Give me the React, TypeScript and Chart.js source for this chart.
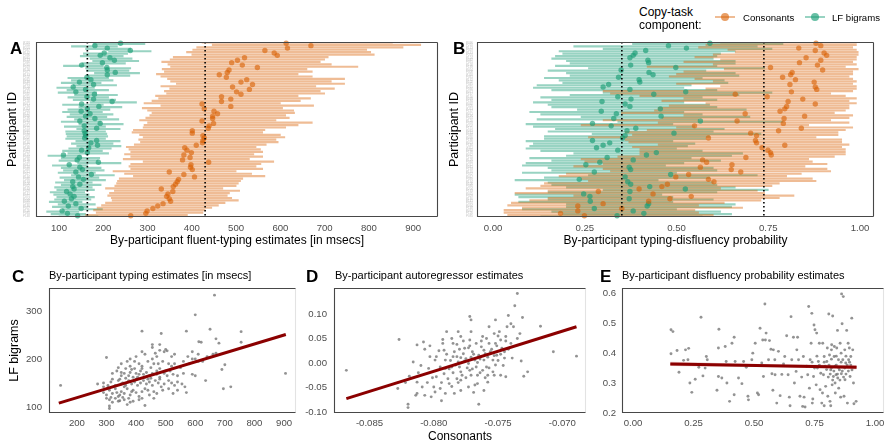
import React, { useEffect, useRef } from "react";
import { Chart, registerables } from "chart.js";

Chart.register(...registerables);

const FONT = '"Liberation Sans", Arial, Helvetica, sans-serif';
const TICK_COLOR = "#4d4d4d";
const FRAME_COLOR = "#474747";
const LIGHT_FRAME = "#e3e3e3";
const ORANGE_BAR = "rgba(217,95,2,0.42)";
const GREEN_BAR = "rgba(27,158,119,0.45)";
const ORANGE_DOT = "rgba(217,95,2,0.6)";
const GREEN_DOT = "rgba(27,158,119,0.66)";
const GRAY_DOT = "rgba(105,105,105,0.72)";
const FIT_RED = "#8b0000";

// ---------------- Panel A: fluent-typing estimates (msecs) ----------------
const aIds = "P118 P054 P201 P087 P132 P096 P045 P173 P066 P210 P019 P158 P077 P143 P102 P031 P189 P061 P124 P008 P167 P092 P215 P039 P150 P071 P184 P113 P026 P137 P059 P196 P083 P120 P014 P175 P048 P161 P099 P207 P035 P146 P072 P188 P111 P023 P155 P064 P199 P128 P041 P170 P089 P212 P017 P134 P080 P193 P106 P052 P163 P029 P141 P075 P204 P094 P010 P180 P057 P126 P085 P148".split(" ");
const aConsMean = [613,669,616,565,586,593,519,503,490,514,548,484,480,462,478,524,511,537,492,530,501,511,467,488,467,423,488,428,450,458,447,447,423,449,439,437,401,401,425,428,425,424,410,384,389,399,382,396,379,438,398,397,401,349,382,406,370,367,363,358,331,357,346,343,349,352,335,323,312,299,296,262];
const aConsLo = [423,446,411,402,388,400,358,351,332,346,352,333,338,320,330,345,352,365,330,350,338,343,318,325,310,292,330,288,300,310,305,296,282,300,292,290,268,265,282,290,280,284,270,252,258,262,248,262,245,290,262,258,262,222,248,268,236,232,230,226,205,225,214,210,218,220,205,196,186,178,184,160];
const aConsHi = [853,917,877,795,804,812,708,700,690,715,775,660,672,640,672,745,715,745,680,722,690,700,640,668,645,600,675,605,630,632,612,620,590,672,640,612,565,560,600,610,590,595,568,545,555,560,540,560,530,585,556,545,560,500,535,565,515,510,505,500,470,508,485,480,490,505,475,460,445,430,425,390];
const aBigMean = [239,181,209,261,202,193,215,225,198,151,208,209,227,209,163,172,146,178,132,160,138,180,163,178,220,151,190,164,150,170,160,181,147,193,157,185,157,159,160,158,185,172,187,167,151,164,110,146,141,189,123,147,153,138,173,144,155,131,147,131,134,117,125,134,128,112,138,121,150,107,119,142];
const aBigLo = [177,128,160,212,155,148,170,176,152,110,160,162,180,165,120,128,105,132,95,118,98,135,120,132,170,108,145,120,108,125,118,135,105,145,112,140,115,116,118,115,138,128,140,122,108,120,75,105,100,142,85,105,110,98,128,102,112,92,105,90,95,80,88,95,90,78,98,85,108,72,82,100];
const aBigHi = [294,232,262,308,255,245,265,280,250,200,262,258,282,260,212,222,195,230,180,212,185,232,212,228,275,200,242,215,198,222,208,235,195,245,205,238,205,208,210,205,238,222,240,218,198,212,150,192,188,240,165,195,202,182,225,190,205,175,195,175,180,158,168,180,172,152,182,165,198,145,160,188];
const aRefLines = [164, 430];
const aXTicks = [100, 200, 300, 400, 500, 600, 700, 800, 900];
const aXLabels = ["100", "200", "300", "400", "500", "600", "700", "800", "900"];

// ---------------- Panel B: disfluency probability ----------------
const bIds = "P096 P210 P173 P019 P143 P201 P124 P087 P031 P158 P189 P054 P008 P118 P061 P132 P102 P045 P215 P066 P077 P167 P150 P039 P184 P092 P026 P113 P137 P071 P196 P014 P120 P059 P207 P175 P083 P161 P048 P099 P188 P023 P146 P111 P035 P199 P072 P155 P128 P064 P212 P041 P193 P170 P052 P017 P089 P134 P106 P080 P204 P163 P075 P029 P180 P141 P010 P094 P148 P057 P126 P085".split(" ");
const bConsMean = [0.880,0.893,0.833,0.878,0.902,0.909,0.853,0.893,0.835,0.884,0.756,0.898,0.815,0.811,0.789,0.824,0.875,0.809,0.878,0.882,0.813,0.660,0.747,0.844,0.804,0.878,0.800,0.795,0.782,0.687,0.849,0.793,0.665,0.791,0.549,0.840,0.778,0.702,0.718,0.587,0.715,0.718,0.795,0.733,0.749,0.756,0.758,0.689,0.571,0.582,0.651,0.565,0.649,0.675,0.533,0.498,0.587,0.602,0.475,0.460,0.398,0.287,0.436,0.540,0.482,0.424,0.300,0.231,0.351,0.231,0.184,0.249];
const bConsLo = [0.62,0.58,0.56,0.64,0.66,0.60,0.55,0.62,0.52,0.60,0.42,0.63,0.52,0.50,0.48,0.55,0.60,0.50,0.62,0.58,0.30,0.32,0.40,0.52,0.46,0.58,0.48,0.45,0.44,0.35,0.52,0.46,0.30,0.45,0.24,0.50,0.42,0.36,0.38,0.26,0.36,0.37,0.45,0.38,0.40,0.40,0.40,0.34,0.24,0.25,0.30,0.22,0.30,0.32,0.20,0.18,0.24,0.26,0.14,0.13,0.09,0.15,0.06,0.22,0.15,0.10,0.05,0.04,0.08,0.03,0.03,0.04];
const bConsHi = [0.99,0.99,0.98,0.99,0.995,0.995,0.99,0.99,0.98,0.99,0.96,0.995,0.98,0.98,0.97,0.98,0.99,0.98,0.99,0.99,0.98,0.92,0.96,0.99,0.97,0.99,0.97,0.97,0.96,0.93,0.98,0.97,0.92,0.97,0.86,0.98,0.96,0.94,0.94,0.88,0.95,0.95,0.97,0.95,0.96,0.96,0.96,0.93,0.86,0.87,0.91,0.85,0.91,0.92,0.84,0.80,0.87,0.88,0.78,0.76,0.62,0.72,0.74,0.82,0.78,0.73,0.63,0.56,0.68,0.55,0.56,0.60];
const bBigMean = [0.591,0.478,0.527,0.416,0.387,0.382,0.373,0.422,0.424,0.375,0.498,0.349,0.425,0.436,0.342,0.398,0.400,0.315,0.300,0.373,0.525,0.438,0.340,0.376,0.297,0.360,0.373,0.456,0.295,0.336,0.458,0.329,0.565,0.271,0.322,0.389,0.365,0.493,0.360,0.353,0.271,0.318,0.300,0.282,0.340,0.445,0.418,0.311,0.382,0.291,0.253,0.371,0.375,0.276,0.484,0.360,0.235,0.367,0.375,0.427,0.524,0.373,0.247,0.264,0.371,0.265,0.424,0.420,0.276,0.382,0.411,0.338];
const bBigLo = [0.38,0.22,0.30,0.18,0.19,0.17,0.16,0.20,0.21,0.17,0.26,0.15,0.20,0.21,0.14,0.18,0.19,0.12,0.11,0.16,0.30,0.21,0.13,0.16,0.11,0.15,0.16,0.23,0.10,0.13,0.24,0.12,0.34,0.09,0.11,0.17,0.15,0.27,0.14,0.14,0.09,0.11,0.10,0.09,0.13,0.22,0.20,0.10,0.16,0.09,0.08,0.15,0.16,0.08,0.26,0.14,0.06,0.15,0.16,0.20,0.30,0.15,0.06,0.07,0.15,0.07,0.20,0.20,0.08,0.16,0.19,0.13];
const bBigHi = [0.79,0.72,0.76,0.66,0.62,0.61,0.60,0.66,0.66,0.61,0.74,0.58,0.66,0.67,0.57,0.63,0.64,0.54,0.52,0.61,0.76,0.67,0.57,0.61,0.52,0.59,0.61,0.69,0.52,0.57,0.70,0.56,0.79,0.49,0.55,0.63,0.60,0.73,0.59,0.58,0.49,0.55,0.53,0.50,0.57,0.68,0.65,0.54,0.62,0.52,0.47,0.60,0.61,0.50,0.72,0.59,0.45,0.60,0.61,0.66,0.75,0.61,0.46,0.49,0.60,0.49,0.66,0.65,0.50,0.62,0.65,0.57];
const bRefLines = [0.351, 0.738];
const bXTicks = [0, 0.25, 0.5, 0.75, 1];
const bXLabels = ["0.00", "0.25", "0.50", "0.75", "1.00"];

// ---------------- Panel C: typing estimates scatter ----------------
const cPoints = [
[420,258],[485,253],[570,258],[600,292],[650,262],[665,333],[755,257],[670,242],[620,235],[612,236],
[455,230],[500,220],[680,233],[755,235],[480,218],[505,217],[455,224],[480,230],
[300,203],[420,215],[465,212],[495,215],[520,205],[530,210],[610,210],[590,215],[575,205],[640,205],[400,205],[380,200],[430,210],[470,205],[455,200],[600,200],[660,210],[670,212],
[350,190],[370,195],[380,185],[395,195],[410,190],[420,185],[440,195],[460,190],[475,190],[490,195],[510,190],[530,190],[560,195],[580,190],[610,195],[625,195],[700,188],[690,178],[450,182],[420,180],[340,182],[365,180],[395,180],[480,180],[550,182],[520,185],[590,200],
[320,170],[335,175],[350,165],[360,170],[375,165],[385,178],[400,170],[405,162],[415,175],[425,168],[435,172],[445,165],[455,170],[470,175],[480,162],[495,170],[505,165],[515,175],[525,168],[540,165],[560,170],[590,168],[600,165],[450,160],[430,162],[390,162],[365,160],[350,172],[470,168],[500,175],[380,172],[410,168],
[270,148],[290,150],[305,145],[315,152],[330,145],[340,155],[355,150],[365,145],[375,155],[385,148],[395,152],[405,145],[415,150],[425,155],[435,148],[445,152],[455,145],[465,155],[475,150],[485,142],[495,148],[510,155],[520,150],[530,145],[540,152],[555,148],[565,142],[635,155],[145,145],[320,158],[345,158],[360,142],[400,158],[440,158],[480,158],[350,148],[290,142],
[290,130],[300,125],[310,135],[320,128],[330,138],[340,122],[350,132],[360,128],[370,138],[380,125],[390,135],[400,130],[410,122],[420,132],[430,138],[445,125],[460,132],[470,128],[490,135],[510,138],[540,135],[570,130],[525,128],[305,140],[335,130],[355,120],[695,138],[720,142],[385,132],[440,135],[315,120],[345,125],
[310,115],[320,110],[330,118],[345,113],[360,115],[375,118],[390,112],[410,115],[430,103],[310,102],[310,97],[370,105],[340,112],[300,118],[380,110],[420,118],[460,118],
[905,170]
];
const cFitX = [139, 906];
const cFitY = [108, 251];
const cXTicks = [200, 300, 400, 500, 600, 700, 800, 900];
const cXLabels = ["200", "300", "400", "500", "600", "700", "800", "900"];
const cYTicks = [100, 200, 300];
const cYLabels = ["100", "200", "300"];

// ---------------- Panel D: autoregressor estimates scatter ----------------
const dPoints = [
[-0.0868,-0.015],[-0.0827,0.048],[-0.0735,0.142],[-0.0737,0.117],[-0.0742,0.097],[-0.0731,0.093],[-0.0772,0.095],[-0.0771,0.088],[-0.0717,0.075],[-0.0707,0.023],[-0.0689,0.014],[-0.0732,0.004],[-0.0727,-0.018],[-0.0730,-0.027],[-0.0765,-0.084],[-0.0820,-0.084],[-0.0820,-0.091],[-0.0794,-0.077],
[-0.0812,-0.020],[-0.0808,0.043],[-0.0807,0.028],[-0.0813,0.037],[-0.0819,-0.027],[-0.0813,-0.039],[-0.0809,-0.049],[-0.0813,-0.062],[-0.0814,-0.066],[-0.0807,-0.066],[-0.0804,-0.011],[-0.0803,0.013],[-0.0799,0.006],[-0.0798,-0.028],[-0.0800,-0.049],[-0.0799,-0.059],[-0.0795,-0.052],[-0.0793,0.048],[-0.0792,0.026],[-0.0791,0.006],[-0.0791,-0.011],[-0.0789,-0.032],[-0.0788,-0.042],[-0.0786,0.050],[-0.0785,0.040],[-0.0784,0.023],[-0.0782,0.013],[-0.0781,0.002],[-0.0780,-0.008],[-0.0779,-0.018],[-0.0782,-0.032],[-0.0779,-0.035],[-0.0777,0.019],[-0.0776,0.030],[-0.0775,0.009],[-0.0773,-0.001],[-0.0772,-0.015],[-0.0771,-0.025],[-0.0773,0.031],[-0.0772,0.047],[-0.0771,0.064],[-0.0770,0.023],[-0.0768,0.006],[-0.0767,-0.008],[-0.0766,-0.025],[-0.0766,-0.042],[-0.0765,0.016],[-0.0763,0.033],[-0.0762,0.054],[-0.0761,0.006],[-0.0759,-0.008],[-0.0758,-0.025],[-0.0757,0.040],[-0.0756,0.023],[-0.0754,0.006],[-0.0753,0.060],[-0.0752,0.040],[-0.0751,0.016],[-0.0749,0.064],[-0.0748,0.047],[-0.0745,0.023],[-0.0744,0.054],[-0.0743,0.074],[-0.0740,0.040],[-0.0738,0.074],[-0.0752,-0.004],[-0.0761,-0.056],[-0.0768,-0.045],[-0.0784,-0.062],[-0.0791,-0.062],[-0.0802,-0.069],[-0.0758,-0.039],[-0.0790,0.064],[-0.0793,0.040],[-0.0781,0.064],[-0.0779,0.054],[-0.0757,0.074],[-0.0748,-0.025],[-0.0744,-0.028],[-0.0753,-0.025],[-0.0779,-0.056],[-0.0773,-0.049],[-0.0786,-0.008],[-0.0795,-0.008],[-0.0785,0.013],
[-0.0787,0.005],[-0.0783,-0.004],[-0.0779,0.011],[-0.0776,0.004],[-0.0774,-0.010],[-0.0771,0.012],[-0.0769,0.018],[-0.0766,0.001],[-0.0764,0.008],[-0.0762,-0.015],[-0.0760,0.019],[-0.0758,0.012],[-0.0755,0.028],[-0.0753,0.015],[-0.0750,0.005],[-0.0747,0.030],[-0.0745,0.010],[-0.0790,0.018],[-0.0788,-0.012],[-0.0785,-0.020],[-0.0780,0.028],[-0.0778,-0.025],[-0.0775,-0.030],[-0.0772,0.035],[-0.0770,-0.012],[-0.0767,0.040],[-0.0764,-0.020],[-0.0761,0.026],[-0.0757,-0.010],[-0.0754,-0.018],[-0.0751,0.035],[-0.0748,0.018],[-0.0796,0.025],[-0.0801,-0.030],[-0.0805,-0.040],[-0.0810,-0.005],[-0.0794,-0.040],[-0.0782,0.038],[-0.0777,0.045],[-0.0763,0.045],[-0.0759,0.050],[-0.0746,-0.005],[-0.0742,0.028],[-0.0739,0.010],[-0.0744,0.045],[-0.0750,0.055],[-0.0735,0.050],[-0.0733,0.060],[-0.0740,0.080],[-0.0752,0.088],[-0.0786,-0.048],[-0.0781,-0.040],[-0.0769,-0.060],[-0.0760,-0.030],[-0.0798,0.013],[-0.0792,-0.022],[-0.0816,0.002],[-0.0822,-0.040],[-0.0828,-0.052],[-0.0803,0.035]
];
const dFitX = [-0.0868, -0.0689];
const dFitY = [-0.0727, 0.074];
const dXTicks = [-0.085, -0.08, -0.075, -0.07];
const dXLabels = ["-0.085", "-0.080", "-0.075", "-0.070"];
const dYTicks = [-0.1, -0.05, 0, 0.05, 0.1];
const dYLabels = ["-0.10", "-0.05", "0.00", "0.05", "0.10"];

// ---------------- Panel E: disfluency probability scatter ----------------
const ePoints = [
[0.157,0.478],[0.165,0.472],[0.157,0.398],[0.182,0.409],[0.190,0.336],[0.209,0.376],[0.217,0.411],[0.230,0.416],[0.227,0.378],[0.235,0.300],[0.243,0.269],[0.257,0.313],[0.281,0.520],[0.272,0.353],[0.289,0.324],[0.303,0.389],[0.307,0.378],[0.298,0.350],[0.347,0.276],[0.353,0.417],[0.355,0.480],[0.353,0.322],[0.367,0.317],[0.381,0.422],[0.388,0.300],[0.385,0.372],[0.409,0.433],[0.418,0.453],[0.418,0.261],[0.422,0.372],[0.436,0.317],[0.399,0.239],[0.450,0.298],[0.457,0.372],[0.468,0.353],[0.475,0.256],[0.477,0.244],[0.491,0.378],[0.495,0.400],[0.505,0.433],[0.514,0.267],[0.519,0.261],[0.525,0.483],[0.532,0.367],[0.536,0.444],[0.539,0.322],[0.545,0.564],[0.547,0.444],[0.550,0.467],[0.560,0.378],[0.564,0.442],[0.570,0.413],[0.574,0.331],[0.578,0.276],[0.580,0.411],[0.586,0.378],[0.587,0.328],[0.594,0.233],[0.601,0.406],[0.608,0.258],[0.615,0.329],[0.622,0.364],[0.627,0.389],[0.635,0.458],[0.641,0.328],[0.646,0.253],[0.649,0.224],[0.653,0.522],[0.656,0.378],[0.663,0.453],[0.667,0.300],[0.674,0.339],[0.677,0.411],[0.680,0.453],[0.684,0.378],[0.690,0.256],[0.697,0.320],[0.704,0.389],[0.707,0.253],[0.711,0.220],[0.718,0.356],[0.722,0.328],[0.726,0.556],[0.729,0.283],[0.732,0.378],[0.736,0.433],[0.739,0.533],[0.743,0.247],[0.746,0.322],[0.748,0.494],[0.752,0.478],[0.757,0.294],[0.759,0.467],[0.762,0.350],[0.766,0.372],[0.770,0.433],[0.773,0.278],[0.776,0.333],[0.780,0.233],[0.783,0.267],[0.784,0.433],[0.787,0.328],[0.790,0.389],[0.794,0.356],[0.796,0.289],[0.801,0.372],[0.803,0.417],[0.805,0.256],[0.807,0.320],[0.809,0.531],[0.812,0.394],[0.814,0.239],[0.817,0.344],[0.820,0.411],[0.821,0.428],[0.823,0.294],[0.825,0.524],[0.828,0.322],[0.831,0.389],[0.832,0.422],[0.835,0.356],[0.836,0.267],[0.839,0.328],[0.842,0.417],[0.845,0.476],[0.846,0.317],[0.849,0.378],[0.850,0.283],[0.853,0.344],[0.856,0.433],[0.858,0.253],[0.861,0.331],[0.862,0.598],[0.864,0.498],[0.867,0.378],[0.869,0.589],[0.872,0.256],[0.875,0.411],[0.876,0.311],[0.879,0.367],[0.883,0.476],[0.886,0.233],[0.889,0.433],[0.891,0.378],[0.894,0.417],[0.897,0.322],[0.900,0.389],[0.904,0.517],[0.905,0.344],[0.908,0.411],[0.911,0.300],[0.913,0.231],[0.922,0.239],[0.790,0.224],[0.817,0.224],[0.741,0.233],[0.701,0.222],
[0.800,0.345],[0.810,0.360],[0.815,0.330],[0.820,0.350],[0.825,0.310],[0.830,0.340],[0.835,0.300],[0.840,0.360],[0.845,0.330],[0.850,0.350],[0.855,0.310],[0.860,0.370],[0.865,0.340],[0.870,0.320],[0.875,0.350],[0.880,0.330],[0.885,0.360],[0.890,0.340],[0.895,0.370],[0.900,0.360],[0.840,0.390],[0.860,0.400],[0.880,0.390],[0.820,0.380],[0.790,0.370],[0.770,0.360],[0.750,0.350],[0.760,0.390],[0.740,0.370]
];
const eFitX = [0.154, 0.924];
const eFitY = [0.364, 0.353];
const eBandX = [0.154, 0.6, 0.924];
const eBandLo = [0.357, 0.353, 0.346];
const eBandHi = [0.371, 0.362, 0.360];
const eXTicks = [0, 0.25, 0.5, 0.75, 1];
const eXLabels = ["0.00", "0.25", "0.50", "0.75", "1.00"];
const eYTicks = [0.2, 0.3, 0.4, 0.5, 0.6];
const eYLabels = ["0.2", "0.3", "0.4", "0.5", "0.6"];

// ---------------- plugins ----------------
function makeFrame(rightColor: string) {
  return {
    id: "frame",
    afterDraw(chart: any) {
      const { ctx, chartArea: a } = chart;
      const l = Math.round(a.left) + 0.5;
      const r = Math.round(a.right) - 0.5;
      const t = Math.round(a.top) + 0.5;
      const b = Math.round(a.bottom) - 0.5;
      ctx.save();
      ctx.setLineDash([]);
      ctx.lineWidth = 1.1;
      ctx.strokeStyle = rightColor;
      ctx.beginPath();
      ctx.moveTo(r, t);
      ctx.lineTo(r, b);
      ctx.stroke();
      ctx.strokeStyle = FRAME_COLOR;
      ctx.beginPath();
      ctx.moveTo(r, t);
      ctx.lineTo(l, t);
      ctx.lineTo(l, b);
      ctx.lineTo(r, b);
      ctx.stroke();
      ctx.restore();
    },
  };
}

function makeRefLines(values: number[]) {
  return {
    id: "refLines",
    afterDatasetsDraw(chart: any) {
      const { ctx, chartArea: a, scales } = chart;
      ctx.save();
      ctx.strokeStyle = "#000";
      ctx.lineWidth = 1.6;
      ctx.setLineDash([1.6, 2.4]);
      values.forEach((v) => {
        const x = scales.x.getPixelForValue(v);
        ctx.beginPath();
        ctx.moveTo(x, a.top);
        ctx.lineTo(x, a.bottom);
        ctx.stroke();
      });
      ctx.restore();
    },
  };
}

const tickFont = { family: FONT, size: 9.6 };

function errorConfig(o: any) {
  return {
    type: "bar",
    data: {
      labels: o.ids,
      datasets: [
        { type: "scatter", data: o.consMean.map((v: number, i: number) => ({ x: v, y: o.ids[i] })), backgroundColor: ORANGE_DOT, borderWidth: 0, pointRadius: 2.7, order: 0 },
        { type: "scatter", data: o.bigMean.map((v: number, i: number) => ({ x: v, y: o.ids[i] })), backgroundColor: GREEN_DOT, borderWidth: 0, pointRadius: 2.7, order: 0 },
        { type: "bar", data: o.consLo.map((v: number, i: number) => [v, o.consHi[i]]), backgroundColor: ORANGE_BAR, borderWidth: 0, barThickness: 1.5, order: 1 },
        { type: "bar", data: o.bigLo.map((v: number, i: number) => [v, o.bigHi[i]]), backgroundColor: GREEN_BAR, borderWidth: 0, barThickness: 1.5, order: 1 },
      ],
    },
    options: {
      indexAxis: "y",
      responsive: false,
      animation: false,
      devicePixelRatio: 1,
      events: [],
      layout: { padding: { left: 0, right: o.rightPad, top: 12, bottom: 4 } },
      plugins: { legend: { display: false }, tooltip: { enabled: false } },
      scales: {
        x: {
          type: "linear",
          min: o.xMin,
          max: o.xMax,
          grid: { display: false, drawTicks: false },
          border: { display: false },
          afterBuildTicks: (s: any) => { s.ticks = o.xTicks.map((v: number) => ({ value: v })); },
          afterFit: (s: any) => { s.height = 31; },
          ticks: { autoSkip: false, maxRotation: 0, padding: 6, color: TICK_COLOR, font: tickFont, callback: (_v: any, i: number) => o.xLabels[i] },
          title: { display: true, text: o.xTitle, color: "#000", font: { family: FONT, size: 12 }, padding: { top: 0, bottom: 0 } },
        },
        y: {
          type: "category",
          offset: true,
          grid: { display: false, drawTicks: false },
          border: { display: false },
          afterFit: (s: any) => { s.width = o.yWidth; },
          ticks: { autoSkip: false, padding: o.idPad, color: "#c4c4c4", font: { family: FONT, size: 3 } },
          title: { display: true, text: "Participant ID", color: "#000", font: { family: FONT, size: 12.5 }, padding: { top: o.yTitlePad, bottom: 0 } },
        },
      },
    },
    plugins: [makeFrame(FRAME_COLOR), makeRefLines(o.refs)],
  };
}

function scatterConfig(o: any) {
  const datasets: any[] = [
    { type: "line", data: o.fitX.map((x: number, i: number) => ({ x, y: o.fitY[i] })), borderColor: FIT_RED, borderWidth: 3, pointRadius: 0, fill: false, order: 0 },
  ];
  if (o.bandX) {
    datasets.push({ type: "line", data: o.bandX.map((x: number, i: number) => ({ x, y: o.bandLo[i] })), borderWidth: 0, pointRadius: 0, fill: false, order: 1 });
    datasets.push({ type: "line", data: o.bandX.map((x: number, i: number) => ({ x, y: o.bandHi[i] })), borderWidth: 0, pointRadius: 0, fill: "-1", backgroundColor: "rgba(190,60,60,0.3)", order: 1 });
  }
  datasets.push({ type: "scatter", data: o.pts.map((p: number[]) => ({ x: p[0], y: p[1] })), backgroundColor: GRAY_DOT, borderWidth: 0, pointRadius: 1.45, order: 2 });
  return {
    type: "scatter",
    data: { datasets },
    options: {
      responsive: false,
      animation: false,
      devicePixelRatio: 1,
      events: [],
      layout: { padding: { left: 0, right: o.rightPad, top: 26, bottom: o.bottomPad } },
      plugins: { legend: { display: false }, tooltip: { enabled: false } },
      scales: {
        x: {
          type: "linear",
          min: o.xMin,
          max: o.xMax,
          grid: { display: false, drawTicks: false },
          border: { display: false },
          afterBuildTicks: (s: any) => { s.ticks = o.xTicks.map((v: number) => ({ value: v })); },
          afterFit: (s: any) => { s.height = 33 - o.bottomPad; },
          ticks: { autoSkip: false, maxRotation: 0, padding: 5, color: TICK_COLOR, font: tickFont, callback: (_v: any, i: number) => o.xLabels[i] },
          title: { display: !!o.xTitle, text: o.xTitle || "", color: "#000", font: { family: FONT, size: 12 }, padding: { top: 0, bottom: 0 } },
        },
        y: {
          type: "linear",
          min: o.yMin,
          max: o.yMax,
          grid: { display: false, drawTicks: false },
          border: { display: false },
          afterBuildTicks: (s: any) => { s.ticks = o.yTicks.map((v: number) => ({ value: v })); },
          afterFit: (s: any) => { s.width = o.yWidth; },
          ticks: { autoSkip: false, padding: o.yTickPad, color: TICK_COLOR, font: tickFont, callback: (_v: any, i: number) => o.yLabels[i] },
          title: { display: !!o.yTitle, text: o.yTitle || "", color: "#000", font: { family: FONT, size: 12.5 }, padding: { top: o.yTitlePad || 0, bottom: 0 } },
        },
      },
    },
    plugins: [makeFrame(LIGHT_FRAME)],
  };
}

function ChartCanvas(props: { left: number; top: number; width: number; height: number; make: () => any }) {
  const ref = useRef<HTMLCanvasElement>(null);
  useEffect(() => {
    const chart = new Chart(ref.current as HTMLCanvasElement, props.make());
    return () => chart.destroy();
  }, []);
  return (
    <canvas
      ref={ref}
      width={props.width}
      height={props.height}
      style={{ position: "absolute", left: props.left, top: props.top, width: props.width, height: props.height }}
    />
  );
}

function Text(props: { left: number; top: number; size: number; bold?: boolean; children: any; color?: string }) {
  return (
    <div
      style={{
        position: "absolute",
        left: props.left,
        top: props.top,
        fontFamily: FONT,
        fontSize: props.size,
        lineHeight: props.size + "px",
        fontWeight: props.bold ? 700 : 400,
        color: props.color || "#000",
        whiteSpace: "nowrap",
      }}
    >
      {props.children}
    </div>
  );
}

function LegendGlyph(props: { left: number; line: string; dot: string }) {
  return (
    <div style={{ position: "absolute", left: props.left, top: 12, width: 20, height: 10 }}>
      <div style={{ position: "absolute", left: 0, top: 4.2, width: 20, height: 1.6, background: props.line }} />
      <div style={{ position: "absolute", left: 6, top: 1, width: 8, height: 8, borderRadius: 4, background: props.dot }} />
    </div>
  );
}

export default function App() {
  return (
    <div style={{ position: "fixed", left: 0, top: 0, width: 886, height: 446, overflow: "hidden", background: "#fff" }}>
      <ChartCanvas
        left={0}
        top={30}
        width={445}
        height={222}
        make={() =>
          errorConfig({
            ids: aIds, consMean: aConsMean, consLo: aConsLo, consHi: aConsHi,
            bigMean: aBigMean, bigLo: aBigLo, bigHi: aBigHi,
            xMin: 48, xMax: 956, xTicks: aXTicks, xLabels: aXLabels, refs: aRefLines,
            xTitle: "By-participant fluent-typing estimates [in msecs]",
            yWidth: 36, rightPad: 7, yTitlePad: 5.5, idPad: 6,
          })
        }
      />
      <ChartCanvas
        left={445}
        top={30}
        width={441}
        height={222}
        make={() =>
          errorConfig({
            ids: bIds, consMean: bConsMean, consLo: bConsLo, consHi: bConsHi,
            bigMean: bBigMean, bigLo: bBigLo, bigHi: bBigHi,
            xMin: -0.0436, xMax: 1.038, xTicks: bXTicks, xLabels: bXLabels, refs: bRefLines,
            xTitle: "By-participant typing-disfluency probability",
            yWidth: 32, rightPad: 12, yTitlePad: 2.5, idPad: 4,
          })
        }
      />
      <ChartCanvas
        left={0}
        top={262}
        width={300}
        height={184}
        make={() =>
          scatterConfig({
            pts: cPoints, fitX: cFitX, fitY: cFitY,
            xMin: 105.8, xMax: 940.4, yMin: 87.5, yMax: 347.9,
            xTicks: cXTicks, xLabels: cXLabels, yTicks: cYTicks, yLabels: cYLabels,
            yTitle: "LF bigrams", yTitlePad: 7.5,
            yWidth: 49, rightPad: 3, bottomPad: 0, yTickPad: 7,
          })
        }
      />
      <ChartCanvas
        left={300}
        top={262}
        width={290}
        height={184}
        make={() =>
          scatterConfig({
            pts: dPoints, fitX: dFitX, fitY: dFitY,
            xMin: -0.08776, xMax: -0.06816, yMin: -0.102, yMax: 0.1531,
            xTicks: dXTicks, xLabels: dXLabels, yTicks: dYTicks, yLabels: dYLabels,
            xTitle: "Consonants",
            yWidth: 34, rightPad: 0, bottomPad: 2, yTickPad: 7,
          })
        }
      />
      <ChartCanvas
        left={590}
        top={262}
        width={306}
        height={184}
        make={() =>
          scatterConfig({
            pts: ePoints, fitX: eFitX, fitY: eFitY,
            bandX: eBandX, bandLo: eBandLo, bandHi: eBandHi,
            xMin: -0.0455, xMax: 1.0372, yMin: 0.2, yMax: 0.6177,
            xTicks: eXTicks, xLabels: eXLabels, yTicks: eYTicks, yLabels: eYLabels,
            yWidth: 32, rightPad: 12, bottomPad: 0, yTickPad: 6,
          })
        }
      />

      <Text left={10} top={40} size={17} bold>A</Text>
      <Text left={453} top={40} size={17} bold>B</Text>
      <Text left={12} top={268} size={17} bold>C</Text>
      <Text left={306} top={268} size={17} bold>D</Text>
      <Text left={600} top={268} size={17} bold>E</Text>

      <Text left={49} top={270} size={11}>By-participant typing estimates [in msecs]</Text>
      <Text left={335} top={270} size={11}>By-participant autoregressor estimates</Text>
      <Text left={622} top={270} size={11}>By-participant disfluency probability estimates</Text>

      <Text left={639} top={6} size={12}>Copy-task</Text>
      <Text left={639} top={19} size={12}>component:</Text>
      <LegendGlyph left={715} line={ORANGE_BAR} dot={ORANGE_DOT} />
      <Text left={743} top={12.6} size={9.6}>Consonants</Text>
      <LegendGlyph left={805} line={GREEN_BAR} dot={GREEN_DOT} />
      <Text left={832} top={12.6} size={9.6}>LF bigrams</Text>
    </div>
  );
}
